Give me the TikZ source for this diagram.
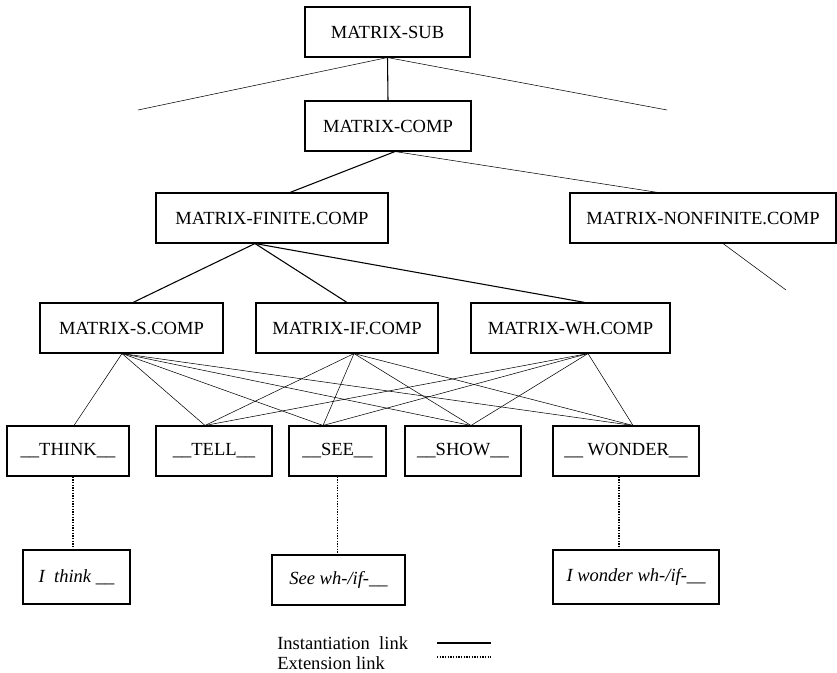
\documentclass[tikz,border=0pt]{standalone}
\usepackage{fontspec}
\setmainfont{Liberation Serif}
\usetikzlibrary{calc}

\tikzset{
  box/.style={draw, line width=0.8pt, inner sep=0pt, minimum height=50*0.75pt,
              font=\fontsize{13.9}{16}\selectfont},
  ibox/.style={box, font=\fontsize{13.9}{16}\selectfont\itshape},
  inst/.style={line width=0.8pt},
  thin link/.style={line width=0.4pt},
  ext/.style={line width=0.9pt, dash pattern=on 1.1pt off 0.9pt},
  legend/.style={anchor=west, inner sep=0pt, font=\fontsize{13.9}{16}\selectfont}
}

\begin{document}
\begin{tikzpicture}[x=0.75pt, y=-0.75pt]
  \useasboundingbox (0,0) rectangle (837,672);

  % type hierarchy
  \node[box, minimum width=165*0.75pt] (sub)    at (387.5,32)  {MATRIX-SUB};
  \node[box, minimum width=166*0.75pt] (comp)   at (388,126)   {MATRIX-COMP};
  \node[box, minimum width=232*0.75pt] (fin)    at (272,218)   {MATRIX-FINITE.COMP};
  \node[box, minimum width=266*0.75pt] (nonfin) at (703,218)   {MATRIX-NONFINITE.COMP};
  \node[box, minimum width=183*0.75pt] (sc)     at (131.5,328) {MATRIX-S.COMP};
  \node[box, minimum width=182*0.75pt] (ifc)    at (347,328)   {MATRIX-IF.COMP};
  \node[box, minimum width=199*0.75pt] (wh)     at (570.5,328) {MATRIX-WH.COMP};

  % verbs
  \node[box, minimum width=122*0.75pt] (think)  at (68,451)    {\_\_THINK\_\_};
  \node[box, minimum width=116*0.75pt] (tell)   at (214,451)   {\_\_TELL\_\_};
  \node[box, minimum width=97*0.75pt]  (see)    at (337.5,451) {\_\_SEE\_\_};
  \node[box, minimum width=116*0.75pt] (show)   at (463,451)   {\_\_SHOW\_\_};
  \node[box, minimum width=146*0.75pt] (wonder) at (626,451)   {\_\_ WONDER\_\_};

  % constructions
  \node[ibox, minimum width=107*0.75pt, minimum height=54*0.75pt] (ithink)  at (76.5,577) {I\ \ think \_\_};
  \node[ibox, minimum width=133*0.75pt] (seewh) at (338.5,580) {See wh-/if-\_\_};
  \node[ibox, minimum width=166*0.75pt, minimum height=54*0.75pt] (iwonder) at (636,577) {I wonder wh-/if-\_\_};

  % open ends
  \coordinate (subL) at (138,110);
  \coordinate (subR) at (667,110);
  \coordinate (nonfinEnd) at (786,290);

  % links from the top
  \draw[inst] (sub.south) -- (comp.north);
  \draw[thin link] (sub.south) -- (subL);
  \draw[thin link] (sub.south) -- (subR);
  \draw[inst] ($(comp.south)+(7,0)$) -- ($(fin.north)+(18,0)$);
  \draw[thin link] ($(comp.south)+(7,0)$) -- ($(nonfin.north)+(-45,0)$);
  \draw[thin link] ($(nonfin.south)+(20,0)$) -- (nonfinEnd);

  \draw[inst] ($(fin.south)+(-17,0)$) -- ($(sc.north)+(1.5,0)$);
  \draw[inst] ($(fin.south)+(-17,0)$) -- (ifc.north);
  \draw[inst] ($(fin.south)+(-17,0)$) -- ($(wh.north)+(14.5,0)$);

  % complement types to verbs
  \coordinate (scB)  at ($(sc.south)+(-9.5,0)$);
  \coordinate (ifB)  at ($(ifc.south)+(7,0)$);
  \coordinate (whB)  at ($(wh.south)+(17.5,0)$);
  \coordinate (thinkT)  at ($(think.north)+(6,0)$);
  \coordinate (tellT)   at ($(tell.north)+(-9,0)$);
  \coordinate (seeT)    at ($(see.north)+(-14.5,0)$);
  \coordinate (showT)   at ($(show.north)+(8,0)$);
  \coordinate (wonderT) at ($(wonder.north)+(7,0)$);

  \foreach \v in {thinkT,tellT,seeT,showT,wonderT}
    \draw[thin link] (scB) -- (\v);
  \foreach \s in {ifB,whB}
    \foreach \v in {tellT,seeT,showT,wonderT}
      \draw[thin link] (\s) -- (\v);

  % extensions
  \draw[ext] ($(think.south)+(5,0)$) -- ($(ithink.north)+(-3.5,0)$);
  \draw[ext] (see.south) -- ($(seewh.north)+(-1,0)$);
  \draw[ext] ($(wonder.south)+(-7,0)$) -- ($(iwonder.north)+(-17,0)$);

  % legend
  \node[legend] (lgInst) at (277,643) {Instantiation\ \ link};
  \node[legend] (lgExt)  at (277,663) {Extension link};
  \coordinate (lgInstA) at (437,643);
  \coordinate (lgInstB) at (491,643);
  \coordinate (lgExtA)  at (437,657);
  \coordinate (lgExtB)  at (491,657);
  \draw[inst] (lgInstA) -- (lgInstB);
  \draw[ext] (lgExtA) -- (lgExtB);
\end{tikzpicture}
\end{document}
